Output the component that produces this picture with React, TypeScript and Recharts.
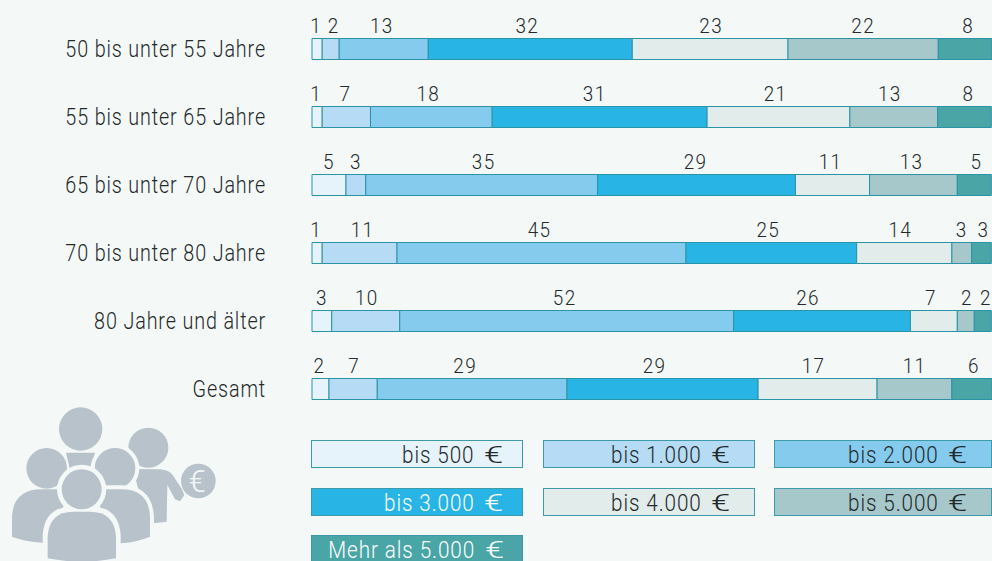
import { BarChart, Bar, XAxis, YAxis, LabelList } from "recharts";

const BG = "#f4f9f8";
const FONT = "Roboto, 'Liberation Sans', sans-serif";
const INK = "#24292c";
const PERSON = "#b8c2ca";

const categories = [
  "50 bis unter 55 Jahre",
  "55 bis unter 65 Jahre",
  "65 bis unter 70 Jahre",
  "70 bis unter 80 Jahre",
  "80 Jahre und älter",
  "Gesamt",
];

// segment lengths as measured from the bars
const bis500 = [1.5, 1.5, 5, 1.5, 2.9, 2.5];
const bis1000 = [2.5, 7.1, 2.9, 11, 10, 7.1];
const bis2000 = [13.1, 17.9, 34.1, 42.5, 49.1, 27.9];
const bis3000 = [30, 31.6, 29.1, 25.1, 26, 28.1];
const bis4000 = [22.9, 21, 10.9, 14, 6.9, 17.5];
const bis5000 = [22.1, 12.9, 12.9, 2.9, 2.5, 11];
const mehr = [7.9, 7.9, 5, 2.9, 2.5, 5.9];

// printed numbers above the segments
const labels500 = [1, 1, 5, 1, 3, 2];
const labels1000 = [2, 7, 3, 11, 10, 7];
const labels2000 = [13, 18, 35, 45, 52, 29];
const labels3000 = [32, 31, 29, 25, 26, 29];
const labels4000 = [23, 21, 11, 14, 7, 17];
const labels5000 = [22, 13, 13, 3, 2, 11];
const labelsMehr = [8, 8, 5, 3, 2, 6];

const legendNames = [
  "bis 500",
  "bis 1.000",
  "bis 2.000",
  "bis 3.000",
  "bis 4.000",
  "bis 5.000",
  "Mehr als 5.000",
];
const colors = ["#e6f3fb", "#b5dcf4", "#85cbee", "#29b4e6", "#e2ecea", "#a6c8cb", "#4aa5a6"];
const legendInk = [INK, INK, INK, "#ffffff", INK, INK, "#ffffff"];

const seriesValues = [bis500, bis1000, bis2000, bis3000, bis4000, bis5000, mehr];
const seriesLabels = [labels500, labels1000, labels2000, labels3000, labels4000, labels5000, labelsMehr];

// numbers in the original don't sit exactly over the segment middle (px, per row)
const labelNudge = [
  [-1, 3, -2, -3, 1, 0, 3],
  [-1, -1, -3, -5, -3, -4, 4],
  [0, 0, 2, -1, -2, -2, 2],
  [-1, 3, -2, -3, -4, 0, 2],
  [0, 1, -2, -14, -3, 1, 3],
  [-1, 1, -7, -8, -4, 0, 2],
];

const data = categories.map((name, i) => {
  const row: Record<string, string | number> = { name };
  seriesValues.forEach((vals, k) => {
    row[`s${k}`] = vals[i];
    row[`l${k}`] = seriesLabels[k][i];
  });
  return row;
});

// the original type is a condensed light face, so squeeze Roboto Light
function CategoryTick({ x, y, payload }: any) {
  return (
    <text
      transform={`translate(${x},${y + 8}) scale(0.86,1)`}
      textAnchor="end"
      fill={INK}
      fontSize={23}
      fontWeight={300}
      fontFamily={FONT}
      letterSpacing={1}
    >
      {payload.value}
    </text>
  );
}

function SegmentLabel({ x, y, width, value, index, series }: any) {
  const cx = x + width / 2 + labelNudge[index][series];
  return (
    <text
      transform={`translate(${cx},${y - 6}) scale(0.9,1)`}
      textAnchor="middle"
      fill={INK}
      fontSize={21}
      fontWeight={300}
      fontFamily={FONT}
      letterSpacing={1.5}
    >
      {value}
    </text>
  );
}

function PeopleIcon() {
  return (
    <svg
      width={300}
      height={161}
      viewBox="0 0 900 483"
      style={{ position: "absolute", left: 0, top: 400 }}
    >
      <circle cx={445} cy={143} r={60} fill={PERSON} />
      <path
        d="M400 207 L480 208 Q510 212 518 225 L546 268 L553 285 L540 304 L525 298 L502 255 L500 365 L440 372 Z"
        fill={PERSON}
      />
      <circle cx={595} cy={243} r={52} fill={PERSON} />
      <text x={592} y={275} fontSize={92} fontWeight={300} textAnchor="middle" fill={BG} fontFamily={FONT}>€</text>
      <circle cx={242} cy={87} r={65} fill={PERSON} />
      <path d="M198 158 L285 158 L272 210 L210 210 Z" fill={PERSON} />
      <circle cx={140} cy={205} r={61} fill={PERSON} />
      <circle cx={345} cy={205} r={67} fill={PERSON} stroke={BG} strokeWidth={12} />
      <path
        d="M36 410 L36 350 Q40 268 125 268 L190 268 L190 440 L127 428 Q75 425 36 410 Z"
        fill={PERSON}
      />
      <path
        d="M462 405 L462 350 Q456 256 365 256 L300 256 L300 440 L362 440 Z"
        fill={BG}
      />
      <path
        d="M450 410 L450 350 Q446 268 365 268 L300 268 L300 440 L362 430 Q415 425 450 410 Z"
        fill={PERSON}
      />
      <path
        d="M128 483 L128 405 Q134 320 215 320 L275 320 Q356 320 362 405 L362 483 Z"
        fill={BG}
      />
      <circle cx={245} cy={268} r={74} fill={BG} />
      <circle cx={245} cy={268} r={60} fill={PERSON} />
      <path
        d="M143 475 L143 410 Q148 335 220 335 L270 335 Q343 335 348 410 L348 475 Q245 495 143 475 Z"
        fill={PERSON}
      />
    </svg>
  );
}

const legendColumns = [311, 543, 774];
const legendRows = [440, 487.5, 535];
const legendHeights = [28, 28, 26];
const legendWidths = [212, 212, 218];
const legendPads = [17, 22, 22];

function LegendBoxes() {
  return (
    <>
      {legendNames.map((name, i) => {
        const col = i % 3;
        const rowIdx = Math.floor(i / 3);
        return (
          <div
            key={name}
            style={{
              position: "absolute",
              left: legendColumns[col],
              top: legendRows[rowIdx],
              width: legendWidths[col],
              boxSizing: "border-box",
              height: legendHeights[rowIdx],
              lineHeight: "22px",
              paddingTop: 3,
              paddingRight: legendPads[col],
              textAlign: "right",
              background: colors[i],
              border: "1px solid #3d9aa8",
              borderBottomWidth: rowIdx === 2 ? 0 : 1,
              color: legendInk[i],
              whiteSpace: "nowrap",
              fontFamily: FONT,
              fontWeight: 300,
              fontSize: 23,
              letterSpacing: 1,
            }}
          >
            <span
              style={{
                display: "inline-block",
                transform: "translateY(1px) scaleX(0.9)",
                transformOrigin: "right",
              }}
            >
              {name}
            </span>
            <span
              style={{
                display: "inline-block",
                marginLeft: 17,
                transform: "translateY(1px) scaleX(1.5)",
                transformOrigin: "right",
              }}
            >
              €
            </span>
          </div>
        );
      })}
    </>
  );
}

export default function App() {
  return (
    <div
      style={{
        position: "absolute",
        left: 0,
        top: 0,
        width: 992,
        height: 561,
        overflow: "hidden",
        background: BG,
      }}
    >
      <BarChart
        width={992}
        height={423}
        data={data}
        layout="vertical"
        barCategoryGap={0}
        margin={{ top: 14.5, right: 0, bottom: 0.5, left: 0 }}
      >
        <XAxis type="number" domain={[0, 100]} hide />
        <YAxis
          type="category"
          dataKey="name"
          width={312}
          axisLine={false}
          tickLine={false}
          tickSize={0}
          tickMargin={46}
          interval={0}
          tick={<CategoryTick />}
        />
        {colors.map((color, k) => (
          <Bar
            key={k}
            dataKey={`s${k}`}
            stackId="a"
            fill={color}
            stroke="#2a93a5"
            strokeWidth={1}
            barSize={21}
            isAnimationActive={false}
          >
            <LabelList dataKey={`l${k}`} content={<SegmentLabel series={k} />} />
          </Bar>
        ))}
      </BarChart>
      <LegendBoxes />
      <PeopleIcon />
    </div>
  );
}
